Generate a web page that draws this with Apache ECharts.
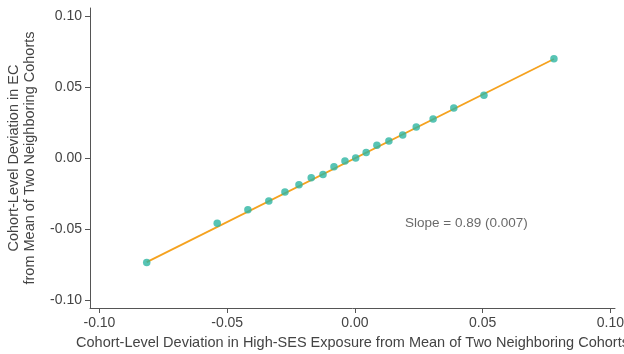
<!DOCTYPE html>
<html><head><meta charset="utf-8">
<script src="https://cdn.jsdelivr.net/npm/echarts@6/dist/echarts.min.js"></script>
<style>html,body{margin:0;padding:0;background:#fff}#c{width:624px;height:354px}</style>
</head><body><div id="c"></div>
<script>
const xValues = [-0.0815, -0.0539, -0.0419, -0.0337, -0.0274, -0.0219, -0.0171, -0.0125, -0.0082, -0.0039, 0.0003, 0.0044, 0.0086, 0.0133, 0.0187, 0.0240, 0.0306, 0.0387, 0.0505, 0.0779];
const yValues = [-0.0735, -0.0459, -0.0364, -0.0303, -0.0239, -0.0188, -0.0139, -0.0117, -0.0061, -0.0021, 0.0000, 0.0039, 0.0089, 0.0120, 0.0162, 0.0218, 0.0275, 0.0352, 0.0441, 0.0699];
const fitX = [-0.0815, 0.0779];
const fitY = [-0.0733, 0.0697];
const xTicks = [-0.10, -0.05, 0.00, 0.05, 0.10];
const yTicks = [-0.10, -0.05, 0.00, 0.05, 0.10];
const slopeText = 'Slope = 0.89 (0.007)';
const slopeAt = [0.0196, -0.0463];
const xTitle = 'Cohort-Level Deviation in High-SES Exposure from Mean of Two Neighboring Cohorts';
const yTitle = 'Cohort-Level Deviation in EC\nfrom Mean of Two Neighboring Cohorts';

const font = 'Liberation Sans, Arial, Helvetica, sans-serif';
const axisCol = '#555';
const textCol = '#444';
const fmt = v => v.toFixed(2);

const chart = echarts.init(document.getElementById('c'), null, {renderer: 'canvas'});
chart.setOption({
  animation: false,
  grid: {left: 90, right: 9, top: 8, bottom: 46, containLabel: false, outerBoundsMode: 'none'},
  xAxis: {
    type: 'value', min: -0.1037, max: 0.1018,
    name: xTitle, nameLocation: 'middle', nameGap: 27,
    nameTextStyle: {color: textCol, fontSize: 14.5, fontFamily: font},
    axisLine: {show: true, onZero: false, lineStyle: {color: axisCol, width: 1}},
    axisTick: {show: true, length: 5, customValues: xTicks, lineStyle: {color: axisCol}},
    axisLabel: {customValues: xTicks, formatter: fmt, color: textCol, fontSize: 14, fontFamily: font, margin: 8},
    splitLine: {show: false}
  },
  yAxis: {
    type: 'value', min: -0.1056, max: 0.1056,
    name: yTitle, nameLocation: 'middle', nameGap: 52, nameRotate: 90,
    nameTextStyle: {color: textCol, fontSize: 14.5, fontFamily: font, lineHeight: 16},
    axisLine: {show: true, onZero: false, lineStyle: {color: axisCol, width: 1}},
    axisTick: {show: true, length: 5, customValues: yTicks, lineStyle: {color: axisCol}},
    axisLabel: {customValues: yTicks, formatter: fmt, color: textCol, fontSize: 14, fontFamily: font, margin: 8},
    splitLine: {show: false}
  },
  series: [
    {
      type: 'line', data: fitX.map((x, i) => [x, fitY[i]]),
      symbol: 'none', lineStyle: {color: '#f5a21f', width: 1.8}, z: 2, silent: true
    },
    {
      type: 'scatter', data: xValues.map((x, i) => [x, yValues[i]]),
      symbol: 'circle', symbolSize: 7.5, itemStyle: {color: '#2db5a2'}, z: 3
    },
    {
      type: 'scatter', data: [slopeAt], symbolSize: 0,
      label: {show: true, position: 'right', distance: 0, formatter: slopeText,
        color: textCol, fontSize: 13.5, fontFamily: font}, z: 4, silent: true
    }
  ]
});
</script></body></html>
